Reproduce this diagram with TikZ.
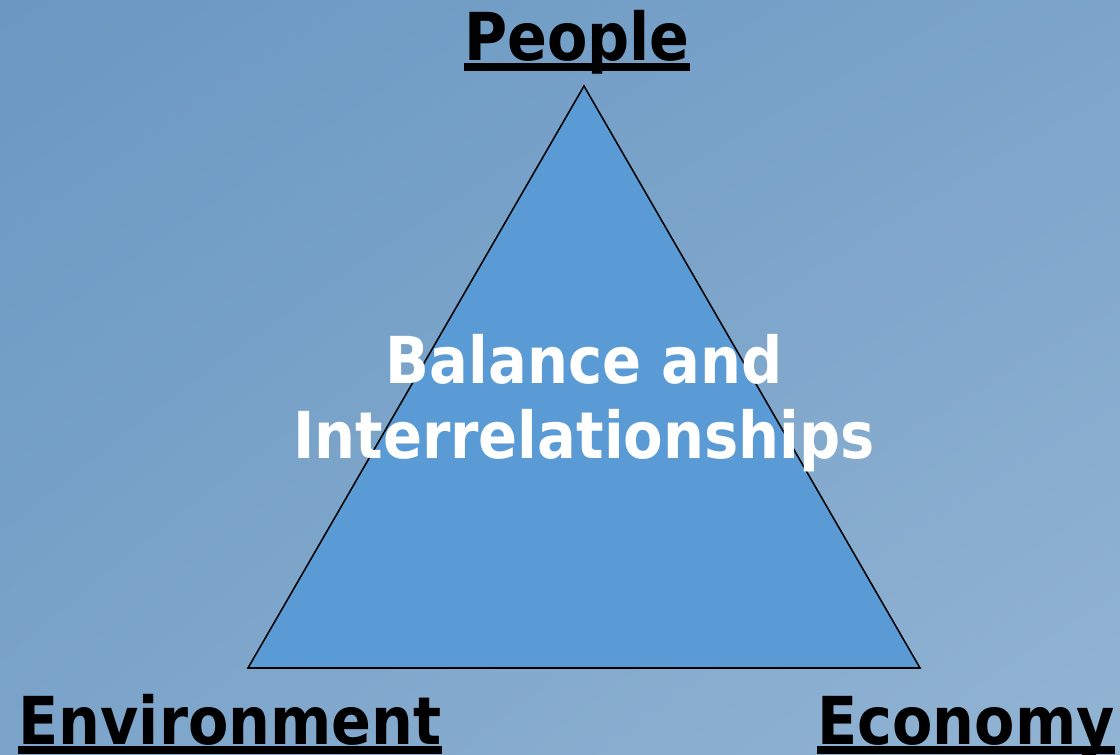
\documentclass[tikz,border=0pt]{standalone}
\usepackage{fontspec}
\setmainfont{DejaVu Sans}[FakeStretch=0.89]
\definecolor{SkyTop}{RGB}{106,152,194}
\definecolor{SkyMid}{RGB}{124,164,202}
\definecolor{SkyLow}{RGB}{146,180,211}
\definecolor{PyramidBlue}{RGB}{91,155,213}
\usetikzlibrary{positioning, calc, shadings}

\tikzset{
  corner/.style={font=\fontsize{47}{56}\selectfont\bfseries, text=black, inner sep=0pt, anchor=base},
  core/.style={font=\fontsize{46}{53}\selectfont\bfseries, text=white, align=center, inner sep=0pt},
  bar/.style={line width=5.5pt}
}

\begin{document}
\begin{tikzpicture}[x=0.025cm, y=-0.025cm]
    \useasboundingbox (0,0) rectangle (1120,755);

    % sky background
    \shade[upper left=SkyTop, upper right=SkyMid, lower left=SkyMid, lower right=SkyLow] (0,0) rectangle (1120,755);

    % triangle
    \coordinate (top) at (584,86);
    \coordinate (left) at (248,668);
    \coordinate (right) at (920,668);
    \draw[fill=PyramidBlue, line width=1.1pt] (top) -- (left) -- (right) -- cycle;

    % centre text
    \node[core] (balance) at (584,403) {Balance and\\Interrelationships};

    % corner labels
    \node[corner] (people) at (577,61) {People};
    \node[corner] (environment) at (230,744) {Environment};
    \node[corner] (economy) at (966,744) {Economy};

    % underlines
    \foreach \lbl in {people, environment, economy} {
        \draw[bar] ($(\lbl.base west)+(0,6)$) -- ($(\lbl.base east)+(0,6)$);
    }
\end{tikzpicture}
\end{document}
